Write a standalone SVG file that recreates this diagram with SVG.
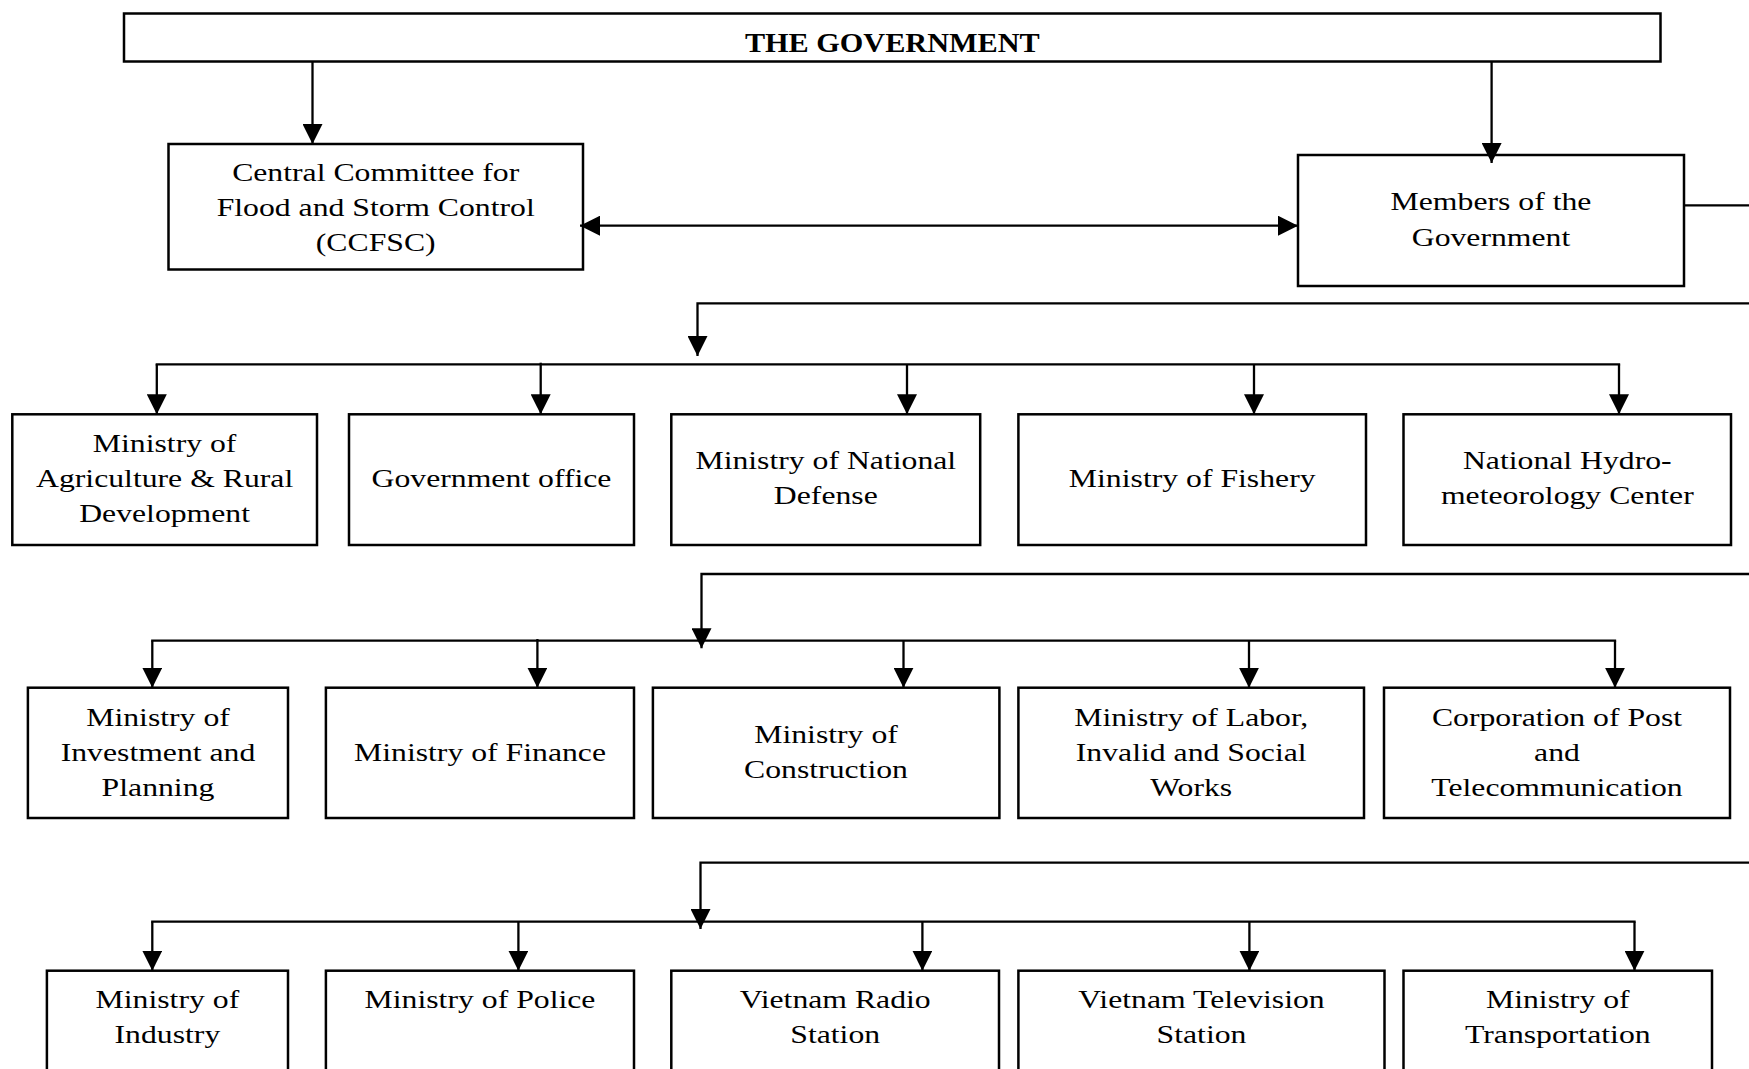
<svg xmlns="http://www.w3.org/2000/svg" width="1749" height="1069" viewBox="0 0 1749 1069">
<style>
  .box { fill: #ffffff; stroke: #000000; stroke-width: 2.5; }
  .ln { fill: none; stroke: #000000; stroke-width: 2.3; }
  .bus { fill: none; stroke: #000000; stroke-width: 2.3; stroke-linecap: square; }
  .arr { fill: none; stroke: #000000; stroke-width: 2.3; marker-end: url(#ah); }
  .t { font-family: "Liberation Serif", "Times New Roman", serif; font-size: 26px; fill: #000000; text-anchor: middle; }
  .tb { font-family: "Liberation Serif", "Times New Roman", serif; font-size: 28px; font-weight: bold; fill: #000000; text-anchor: middle; }
</style>
<defs>
  <marker id="ah" viewBox="0 0 20 20" refX="20" refY="10" markerWidth="20" markerHeight="20" markerUnits="userSpaceOnUse" orient="auto-start-reverse">
    <path d="M0,0 L20,10 L0,20 Z" fill="#000000"/>
  </marker>
</defs>
<rect width="1749" height="1069" fill="#ffffff"/>

<g id="government">
  <rect class="box" x="124" y="13.5" width="1536.5" height="48"/>
  <text class="tb" transform="translate(892.3 0) scale(1.08 1)"><tspan x="0" y="52">THE GOVERNMENT</tspan></text>
</g>

<g id="ccfsc">
  <rect class="box" x="168.5" y="144" width="414.5" height="125.5"/>
  <text class="t" transform="translate(375.7 0) scale(1.22 1)"><tspan x="0" y="181.5">Central Committee for</tspan><tspan x="0" y="216.5">Flood and Storm Control</tspan><tspan x="0" y="251.5">(CCFSC)</tspan></text>
</g>

<g id="members">
  <rect class="box" x="1298" y="155" width="386" height="131"/>
  <text class="t" transform="translate(1491 0) scale(1.22 1)"><tspan x="0" y="210.5">Members of the</tspan><tspan x="0" y="246">Government</tspan></text>
</g>

<g id="agriculture">
  <rect class="box" x="12.3" y="414.3" width="304.7" height="130.7"/>
  <text class="t" transform="translate(164.6 0) scale(1.22 1)"><tspan x="0" y="451.7">Ministry of</tspan><tspan x="0" y="486.7">Agriculture &amp; Rural</tspan><tspan x="0" y="521.7">Development</tspan></text>
</g>
<g id="gov-office">
  <rect class="box" x="349" y="414.3" width="285" height="130.7"/>
  <text class="t" transform="translate(491.5 0) scale(1.22 1)"><tspan x="0" y="487">Government office</tspan></text>
</g>
<g id="defense">
  <rect class="box" x="671.3" y="414.3" width="308.9" height="130.7"/>
  <text class="t" transform="translate(825.8 0) scale(1.22 1)"><tspan x="0" y="469.5">Ministry of National</tspan><tspan x="0" y="504.5">Defense</tspan></text>
</g>
<g id="fishery">
  <rect class="box" x="1018.4" y="414.3" width="347.6" height="130.7"/>
  <text class="t" transform="translate(1192.2 0) scale(1.22 1)"><tspan x="0" y="487">Ministry of Fishery</tspan></text>
</g>
<g id="hydro">
  <rect class="box" x="1403.5" y="414.3" width="327.5" height="130.7"/>
  <text class="t" transform="translate(1567.3 0) scale(1.22 1)"><tspan x="0" y="469.5">National Hydro-</tspan><tspan x="0" y="504.5">meteorology Center</tspan></text>
</g>

<g id="investment">
  <rect class="box" x="27.9" y="687.7" width="260.1" height="130.3"/>
  <text class="t" transform="translate(158 0) scale(1.22 1)"><tspan x="0" y="726">Ministry of</tspan><tspan x="0" y="761">Investment and</tspan><tspan x="0" y="796">Planning</tspan></text>
</g>
<g id="finance">
  <rect class="box" x="325.9" y="687.7" width="308.1" height="130.3"/>
  <text class="t" transform="translate(480 0) scale(1.22 1)"><tspan x="0" y="761.5">Ministry of Finance</tspan></text>
</g>
<g id="construction">
  <rect class="box" x="652.9" y="687.7" width="346.5" height="130.3"/>
  <text class="t" transform="translate(826 0) scale(1.22 1)"><tspan x="0" y="743">Ministry of</tspan><tspan x="0" y="778">Construction</tspan></text>
</g>
<g id="labor">
  <rect class="box" x="1018.4" y="687.7" width="345.6" height="130.3"/>
  <text class="t" transform="translate(1191.2 0) scale(1.22 1)"><tspan x="0" y="726">Ministry of Labor,</tspan><tspan x="0" y="761">Invalid and Social</tspan><tspan x="0" y="796">Works</tspan></text>
</g>
<g id="post">
  <rect class="box" x="1384" y="687.7" width="346" height="130.3"/>
  <text class="t" transform="translate(1557 0) scale(1.22 1)"><tspan x="0" y="726">Corporation of Post</tspan><tspan x="0" y="761">and</tspan><tspan x="0" y="796">Telecommunication</tspan></text>
</g>

<g id="industry">
  <rect class="box" x="46.9" y="970.7" width="241.1" height="110"/>
  <text class="t" transform="translate(167.4 0) scale(1.22 1)"><tspan x="0" y="1008.5">Ministry of</tspan><tspan x="0" y="1043.5">Industry</tspan></text>
</g>
<g id="police">
  <rect class="box" x="325.9" y="970.7" width="308.1" height="110"/>
  <text class="t" transform="translate(480 0) scale(1.22 1)"><tspan x="0" y="1008.5">Ministry of Police</tspan></text>
</g>
<g id="radio">
  <rect class="box" x="671.3" y="970.7" width="327.7" height="110"/>
  <text class="t" transform="translate(835.2 0) scale(1.22 1)"><tspan x="0" y="1008.5">Vietnam Radio</tspan><tspan x="0" y="1043.5">Station</tspan></text>
</g>
<g id="television">
  <rect class="box" x="1018.4" y="970.7" width="366.1" height="110"/>
  <text class="t" transform="translate(1201.5 0) scale(1.22 1)"><tspan x="0" y="1008.5">Vietnam Television</tspan><tspan x="0" y="1043.5">Station</tspan></text>
</g>
<g id="transportation">
  <rect class="box" x="1403.5" y="970.7" width="308.5" height="110"/>
  <text class="t" transform="translate(1557.8 0) scale(1.22 1)"><tspan x="0" y="1008.5">Ministry of</tspan><tspan x="0" y="1043.5">Transportation</tspan></text>
</g>

<g id="connectors">
  <line class="arr" x1="312.5" y1="61.5" x2="312.5" y2="144"/>
  <line class="arr" x1="1491.6" y1="61.5" x2="1491.6" y2="163"/>
  <line class="ln" x1="580" y1="225.7" x2="1298" y2="225.7" style="marker-start:url(#ah);marker-end:url(#ah)"/>
  <line class="ln" x1="1684" y1="205.3" x2="1749" y2="205.3"/>

  <path class="arr" d="M1749,303.3 H697.5 V356"/>
  <line class="bus" x1="156.8" y1="364.3" x2="1619" y2="364.3"/>
  <line class="arr" x1="156.8" y1="364.3" x2="156.8" y2="414.3"/>
  <line class="arr" x1="540.7" y1="362.7" x2="540.7" y2="414.3"/>
  <line class="arr" x1="907" y1="364.3" x2="907" y2="414.3"/>
  <line class="arr" x1="1254" y1="364.3" x2="1254" y2="414.3"/>
  <line class="arr" x1="1619" y1="364.3" x2="1619" y2="414.3"/>

  <path class="arr" d="M1749,574 H701.5 V648.3"/>
  <line class="bus" x1="152.3" y1="640.7" x2="1615" y2="640.7"/>
  <line class="arr" x1="152.3" y1="640.7" x2="152.3" y2="687.7"/>
  <line class="arr" x1="537.4" y1="639" x2="537.4" y2="687.7"/>
  <line class="arr" x1="903.5" y1="640.7" x2="903.5" y2="687.7"/>
  <line class="arr" x1="1249" y1="640.7" x2="1249" y2="687.7"/>
  <line class="arr" x1="1615" y1="640.7" x2="1615" y2="687.7"/>

  <path class="arr" d="M1749,862.7 H700.5 V929"/>
  <line class="bus" x1="152.3" y1="921.7" x2="1634.5" y2="921.7"/>
  <line class="arr" x1="152.3" y1="921.7" x2="152.3" y2="970.7"/>
  <line class="arr" x1="518.4" y1="921.7" x2="518.4" y2="970.7"/>
  <line class="arr" x1="922.4" y1="921.7" x2="922.4" y2="970.7"/>
  <line class="arr" x1="1249.4" y1="921.7" x2="1249.4" y2="970.7"/>
  <line class="arr" x1="1634.5" y1="921.7" x2="1634.5" y2="970.7"/>
</g>
</svg>
